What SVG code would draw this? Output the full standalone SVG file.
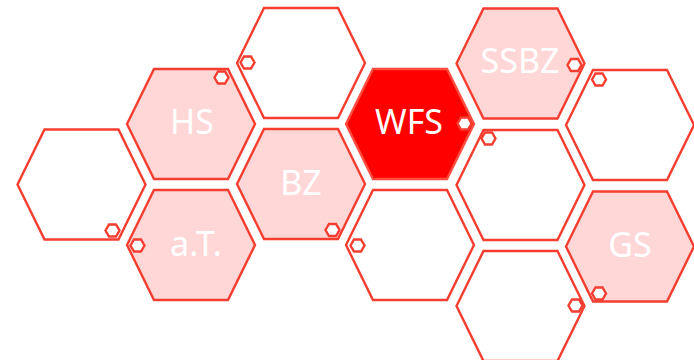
<svg xmlns="http://www.w3.org/2000/svg" width="694" height="360" viewBox="0 0 694 360">
<defs>
<polygon id="hex" points="-64,0 -37,-55 37,-55 64,0 37,55 -37,55"/>
<polygon id="dot" points="-7,0 -3.5,-6 3.5,-6 7,0 3.5,6 -3.5,6"/>
</defs>
<style>
.e{fill:#ffffff;stroke:#f53d30;stroke-width:2.4}
.p{fill:#ffd7d7;stroke:#f53d30;stroke-width:2.4}
.r{fill:#ff0000;stroke:#ff4d40;stroke-width:2.4}
.d{fill:#ffffff;stroke:#f53d30;stroke-width:2.4}
.t{fill:#ffffff;font-family:"Noto Sans","Open Sans",sans-serif;font-size:34px;text-anchor:middle}
</style>
<rect width="694" height="360" fill="#ffffff"/>
<g id="n-c0">
<use href="#hex" class="e" x="81.5" y="184.5"/>
<use href="#dot" class="d" x="112.5" y="230.5"/>
</g>
<g id="n-hs">
<use href="#hex" class="p" x="191" y="124"/>
<text class="t" x="192" y="134">HS</text>
<use href="#dot" class="d" x="221.5" y="77.5"/>
</g>
<g id="n-at">
<use href="#hex" class="p" x="191" y="245"/>
<text class="t" x="196" y="256">a.T.</text>
<use href="#dot" class="d" x="137.5" y="245.5"/>
</g>
<g id="n-c2top">
<use href="#hex" class="e" x="301" y="63"/>
<use href="#dot" class="d" x="247.5" y="62.5"/>
</g>
<g id="n-bz">
<use href="#hex" class="p" x="301" y="184"/>
<text class="t" x="301" y="195">BZ</text>
<use href="#dot" class="d" x="332.5" y="230"/>
</g>
<g id="n-wfs">
<use href="#hex" class="r" x="410" y="124"/>
<text class="t" x="409" y="134">WFS</text>
<use href="#dot" class="d" x="464.5" y="123.5"/>
</g>
<g id="n-c3bot">
<use href="#hex" class="e" x="410" y="245"/>
<use href="#dot" class="d" x="357.5" y="245.5"/>
</g>
<g id="n-ssbz">
<use href="#hex" class="p" x="520.5" y="63.5"/>
<text class="t" x="520" y="73">SSBZ</text>
<use href="#dot" class="d" x="574.5" y="65"/>
</g>
<g id="n-c4mid">
<use href="#hex" class="e" x="520.5" y="185"/>
<use href="#dot" class="d" x="488.5" y="138.5"/>
</g>
<g id="n-c4bot">
<use href="#hex" class="e" x="520.5" y="306"/>
<use href="#dot" class="d" x="575.5" y="305.5"/>
</g>
<g id="n-c5top">
<use href="#hex" class="e" x="630" y="125"/>
<use href="#dot" class="d" x="599" y="79.5"/>
</g>
<g id="n-gs">
<use href="#hex" class="p" x="630" y="246.5"/>
<text class="t" x="630" y="257">GS</text>
<use href="#dot" class="d" x="599" y="293.5"/>
</g>
<g id="connectors"/>
</svg>
